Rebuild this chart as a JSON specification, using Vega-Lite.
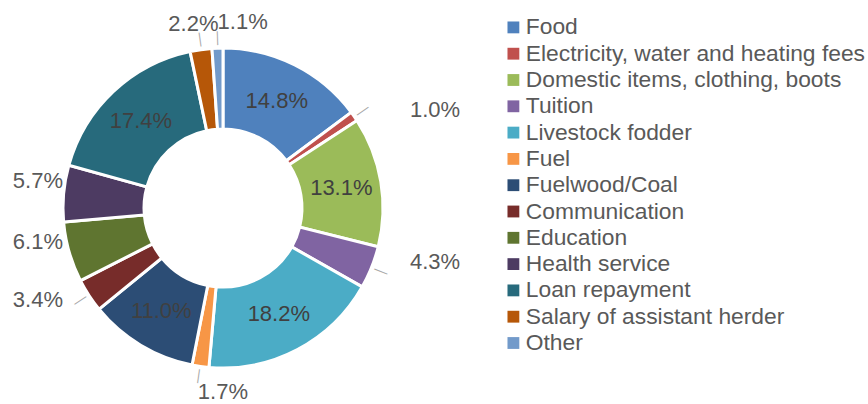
{
  "$schema": "https://vega.github.io/schema/vega-lite/v6.json",
  "width": 446,
  "height": 392,
  "autosize": {"type": "none"},
  "padding": {"left": 0, "top": 12, "right": 422, "bottom": 0},
  "background": "white",
  "config": {"view": {"stroke": null}, "font": "Liberation Sans"},
  "data": {
    "values": [
      {"cat": "Food", "share": 0.148, "idx": 1},
      {"cat": "Electricity, water and heating fees", "share": 0.010, "idx": 2},
      {"cat": "Domestic items, clothing, boots", "share": 0.131, "idx": 3},
      {"cat": "Tuition", "share": 0.043, "idx": 4},
      {"cat": "Livestock fodder", "share": 0.182, "idx": 5},
      {"cat": "Fuel", "share": 0.017, "idx": 6},
      {"cat": "Fuelwood/Coal", "share": 0.110, "idx": 7},
      {"cat": "Communication", "share": 0.034, "idx": 8},
      {"cat": "Education", "share": 0.061, "idx": 9},
      {"cat": "Health service", "share": 0.057, "idx": 10},
      {"cat": "Loan repayment", "share": 0.174, "idx": 11},
      {"cat": "Salary of assistant herder", "share": 0.022, "idx": 12},
      {"cat": "Other", "share": 0.011, "idx": 13}
    ]
  },
  "encoding": {
    "theta": {"field": "share", "type": "quantitative", "stack": true},
    "order": {"field": "idx", "type": "quantitative"}
  },
  "layer": [
    {
      "mark": {"type": "arc", "outerRadius": 160, "innerRadius": 79, "stroke": "white", "strokeWidth": 3},
      "encoding": {
        "color": {
          "field": "cat",
          "type": "nominal",
          "scale": {
            "domain": ["Food", "Electricity, water and heating fees", "Domestic items, clothing, boots", "Tuition", "Livestock fodder", "Fuel", "Fuelwood/Coal", "Communication", "Education", "Health service", "Loan repayment", "Salary of assistant herder", "Other"],
            "range": ["#4F81BD", "#C0504D", "#9BBB59", "#8064A2", "#4BACC6", "#F79646", "#2C4D75", "#772C2A", "#5F7530", "#4D3B62", "#276A7C", "#B65708", "#729ACA"]
          },
          "legend": {
            "orient": "none",
            "legendX": 502,
            "legendY": 4,
            "title": null,
            "padding": 0,
            "symbolType": "square",
            "symbolSize": 140,
            "symbolStrokeWidth": 0,
            "labelFontSize": 22.8,
            "labelColor": "#595959",
            "labelFont": "Liberation Sans",
            "rowPadding": 2.3,
            "labelOffset": 1,
            "labelLimit": 400
          }
        }
      }
    },
    {
      "mark": {"type": "text", "radius": 170, "fontSize": 14, "color": "#A6A6A6", "font": "Liberation Sans", "align": "center", "baseline": "middle",
        "angle": {"expr": "180*(datum.share_start+datum.share_end) - 90"}},
      "encoding": {
        "text": {"condition": {"test": "datum.idx == 2 || datum.idx == 4 || datum.idx == 6 || datum.idx == 8 || datum.idx == 12 || datum.idx == 13", "value": "—"}, "value": ""}
      }
    },
    {
      "mark": {"type": "text", "radius": 120, "fontSize": 22, "color": "#404040", "font": "Liberation Sans"},
      "encoding": {
        "text": {"field": "share", "type": "quantitative", "format": ".1%", "condition": {"test": "datum.share < 0.1", "value": ""}}
      }
    },
    {
      "mark": {"type": "text", "radius": {"expr": "187/abs(sin(PI*(datum.share_start+datum.share_end)))"}, "fontSize": 22, "color": "#595959", "font": "Liberation Sans", "align": "left", "baseline": "middle", "dy": 33},
      "encoding": {
        "text": {"field": "share", "type": "quantitative", "format": ".1%", "condition": {"test": "datum.idx != 2", "value": ""}}
      }
    },
    {
      "mark": {"type": "text", "radius": {"expr": "187/abs(sin(PI*(datum.share_start+datum.share_end)))"}, "fontSize": 22, "color": "#595959", "font": "Liberation Sans", "align": "left", "baseline": "middle", "dy": -21},
      "encoding": {
        "text": {"field": "share", "type": "quantitative", "format": ".1%", "condition": {"test": "datum.idx != 4", "value": ""}}
      }
    },
    {
      "mark": {"type": "text", "radius": {"expr": "160/abs(sin(PI*(datum.share_start+datum.share_end)))"}, "fontSize": 22, "color": "#595959", "font": "Liberation Sans", "align": "right", "baseline": "middle", "dy": -12},
      "encoding": {
        "text": {"field": "share", "type": "quantitative", "format": ".1%", "condition": {"test": "datum.idx != 8 && datum.idx != 9 && datum.idx != 10", "value": ""}}
      }
    },
    {
      "mark": {"type": "text", "radius": 186, "fontSize": 22, "color": "#595959", "font": "Liberation Sans", "align": "center", "baseline": "middle", "dx": -4},
      "encoding": {
        "text": {"field": "share", "type": "quantitative", "format": ".1%", "condition": {"test": "datum.idx != 12", "value": ""}}
      }
    },
    {
      "mark": {"type": "text", "radius": 186, "fontSize": 22, "color": "#595959", "font": "Liberation Sans", "align": "left", "baseline": "middle", "dx": 1},
      "encoding": {
        "text": {"field": "share", "type": "quantitative", "format": ".1%", "condition": {"test": "datum.idx != 6 && datum.idx != 13", "value": ""}}
      }
    }
  ]
}
